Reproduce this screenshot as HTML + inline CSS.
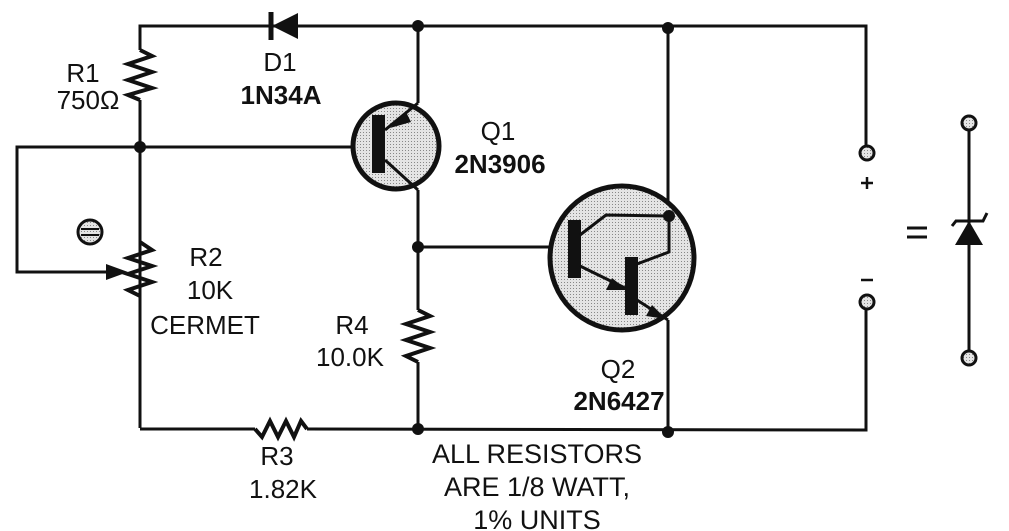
<!DOCTYPE html>
<html><head><style>
html,body{margin:0;padding:0;background:#fff;}
svg{display:block;}
text{font-family:"Liberation Sans",Arial,sans-serif;font-size:26px;fill:#111;text-anchor:middle;}
.b{font-weight:bold;}
</style></head><body>
<svg width="1009" height="531" viewBox="0 0 1009 531" xmlns="http://www.w3.org/2000/svg">
<defs>
<pattern id="dot" width="3" height="3" patternUnits="userSpaceOnUse"><rect width="3" height="3" fill="#e4e4e4"/><rect width="1" height="1" fill="#888"/></pattern>
</defs>
<g stroke="#111" stroke-width="3" fill="none">
<polyline points="140,428 140,100"/>
<polyline points="140,50 140,26 866,26 866,145"/>
<polyline points="140,50 152,56 128,64 152,72 128,80 152,88 128,95 140,100" stroke-width="4"/>
<polyline points="140,147 17,147 17,272 120,272"/>
<line x1="140" y1="147" x2="352" y2="147"/>
<polyline points="140,242 152,250 128,258 152,266 128,274 152,282 128,290 140,296" stroke-width="4"/>
<polyline points="140,429 255,429"/>
<polyline points="255,429 262,437 270,421 278,437 286,421 294,437 301,421 307,429" stroke-width="4"/>
<polyline points="307,429 866,430 866,310"/>
<line x1="418" y1="26" x2="418" y2="103"/>
<line x1="418" y1="190" x2="418" y2="310"/>
<polyline points="418,310 430,316 406,324 430,332 406,340 430,348 406,356 418,362" stroke-width="4"/>
<line x1="418" y1="362" x2="418" y2="429"/>
<line x1="418" y1="247" x2="552" y2="247"/>
<line x1="668" y1="26" x2="668" y2="216"/>
<line x1="668" y1="320" x2="668" y2="432"/>
<line x1="969" y1="130" x2="969" y2="350"/>
</g>
<line x1="271" y1="12" x2="271" y2="40" stroke="#111" stroke-width="5"/>
<polygon points="272,26 298,13 298,39" fill="#111"/>
<polygon points="106,264 128,272 106,280" fill="#111"/>
<circle cx="90" cy="232" r="12" fill="url(#dot)" stroke="#111" stroke-width="3"/>
<line x1="81" y1="229" x2="99" y2="229" stroke="#111" stroke-width="2"/>
<line x1="81" y1="235" x2="99" y2="235" stroke="#111" stroke-width="2"/>
<circle cx="396" cy="146" r="43" fill="url(#dot)" stroke="#111" stroke-width="5"/>
<rect x="372" y="115" width="13" height="58" fill="#111"/>
<line x1="385" y1="130" x2="418" y2="103" stroke="#111" stroke-width="3"/>
<line x1="385" y1="160" x2="418" y2="190" stroke="#111" stroke-width="3"/>
<polygon points="390,128 406,112 411,122" fill="#111"/>
<circle cx="622" cy="258" r="72" fill="url(#dot)" stroke="#111" stroke-width="5"/>
<rect x="568" y="220" width="13" height="58" fill="#111"/>
<rect x="625" y="257" width="13" height="58" fill="#111"/>
<polyline points="580,235 606,215 669,216 669,252 637,264" fill="none" stroke="#111" stroke-width="3"/>
<circle cx="669" cy="216" r="6" fill="#111"/>
<line x1="580" y1="266" x2="625" y2="288" stroke="#111" stroke-width="3"/>
<polygon points="627,290 606,290 612,278" fill="#111"/>
<line x1="637" y1="300" x2="668" y2="320" stroke="#111" stroke-width="3"/>
<polygon points="666,319 646,316 652,305" fill="#111"/>
<g fill="#111">
<circle cx="140" cy="147" r="6"/>
<circle cx="418" cy="26" r="6"/>
<circle cx="668" cy="28" r="6"/>
<circle cx="418" cy="247" r="6"/>
<circle cx="418" cy="429" r="6"/>
<circle cx="668" cy="432" r="6"/>
</g>
<g fill="url(#dot)" stroke="#111" stroke-width="3">
<circle cx="867" cy="153" r="7"/>
<circle cx="867" cy="302" r="7"/>
<circle cx="969" cy="123" r="7"/>
<circle cx="969" cy="358" r="7"/>
</g>
<polyline points="952,226 956,221 983,221 987,213" fill="none" stroke="#111" stroke-width="3"/>
<polygon points="969,221 955,245 983,245" fill="#111"/>
<line x1="861" y1="183" x2="873" y2="183" stroke="#111" stroke-width="2.5"/>
<line x1="867" y1="177" x2="867" y2="189" stroke="#111" stroke-width="2.5"/>
<line x1="861" y1="280" x2="873" y2="280" stroke="#111" stroke-width="2.5"/>
<line x1="907" y1="228" x2="927" y2="228" stroke="#111" stroke-width="3"/>
<line x1="907" y1="237" x2="927" y2="237" stroke="#111" stroke-width="3"/>
<text x="83" y="82">R1</text>
<text x="88" y="109">750Ω</text>
<text x="280" y="71">D1</text>
<text x="281" y="104" class="b">1N34A</text>
<text x="498" y="140">Q1</text>
<text x="500" y="173" class="b">2N3906</text>
<text x="206" y="266">R2</text>
<text x="210" y="299">10K</text>
<text x="205" y="334">CERMET</text>
<text x="352" y="334">R4</text>
<text x="350" y="366">10.0K</text>
<text x="618" y="378">Q2</text>
<text x="619" y="410" class="b">2N6427</text>
<text x="277" y="465">R3</text>
<text x="283" y="498">1.82K</text>
<text x="537" y="463" style="font-size:27px">ALL RESISTORS</text>
<text x="537" y="496" style="font-size:27px">ARE 1/8 WATT,</text>
<text x="537" y="529" style="font-size:27px">1% UNITS</text>
</svg>
</body></html>
